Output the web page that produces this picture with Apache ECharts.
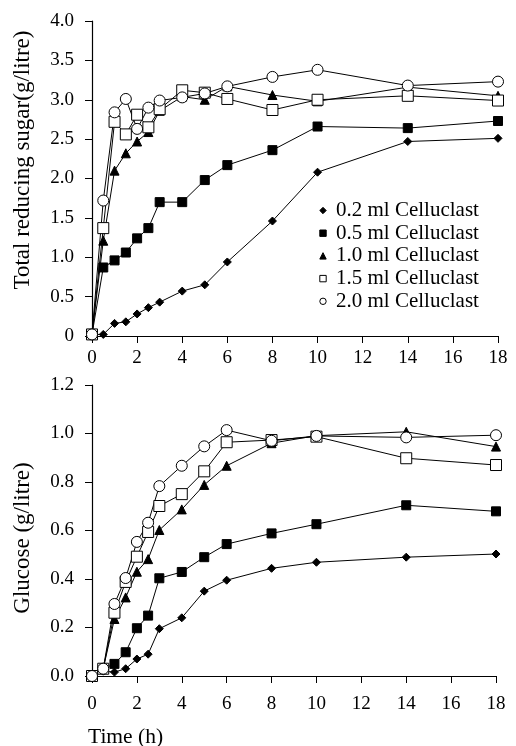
<!DOCTYPE html>
<html>
<head>
<meta charset="utf-8">
<script src="https://cdn.jsdelivr.net/npm/echarts@6/dist/echarts.min.js"></script>
<style>
  html, body { margin: 0; padding: 0; background: #fff; }
  #chart { width: 516px; height: 746px; }
</style>
</head>
<body>
<div id="chart"></div>
<script>
// time points (h)
var times = [0, 0.5, 1, 1.5, 2, 2.5, 3, 4, 5, 6, 8, 10, 14, 18];
var names = ['0.2 ml Celluclast', '0.5 ml Celluclast', '1.0 ml Celluclast', '1.5 ml Celluclast', '2.0 ml Celluclast'];

// total reducing sugar (g/litre)
var sugar02 = [0.02, 0.02, 0.16, 0.18, 0.28, 0.36, 0.43, 0.57, 0.65, 0.94, 1.46, 2.08, 2.47, 2.51];
var sugar05 = [0.02, 0.87, 0.96, 1.06, 1.24, 1.37, 1.70, 1.70, 1.98, 2.17, 2.36, 2.66, 2.64, 2.73];
var sugar10 = [0.02, 1.21, 2.10, 2.32, 2.47, 2.59, 2.86, 3.04, 3.00, 3.17, 3.06, 2.98, 3.16, 3.05];
var sugar15 = [0.02, 1.37, 2.72, 2.56, 2.81, 2.65, 2.88, 3.12, 3.09, 3.01, 2.87, 3.00, 3.05, 2.99];
var sugar20 = [0.02, 1.72, 2.84, 3.01, 2.63, 2.90, 2.99, 3.03, 3.08, 3.17, 3.29, 3.38, 3.18, 3.23];

// glucose (g/litre)
var gluc02 = [0.00, 0.02, 0.016, 0.03, 0.07, 0.09, 0.195, 0.24, 0.35, 0.395, 0.444, 0.469, 0.49, 0.503];
var gluc05 = [0.00, 0.03, 0.05, 0.098, 0.197, 0.249, 0.403, 0.429, 0.49, 0.544, 0.588, 0.626, 0.704, 0.679];
var gluc10 = [0.00, 0.03, 0.235, 0.324, 0.43, 0.482, 0.602, 0.687, 0.788, 0.867, 0.96, 0.991, 1.007, 0.946];
var gluc15 = [0.00, 0.03, 0.261, 0.388, 0.492, 0.594, 0.701, 0.75, 0.844, 0.964, 0.973, 0.987, 0.898, 0.87];
var gluc20 = [0.00, 0.03, 0.297, 0.404, 0.553, 0.632, 0.783, 0.867, 0.947, 1.014, 0.97, 0.99, 0.984, 0.993];

var fontFam = '"Liberation Serif", "DejaVu Serif", serif';

function pairs(ys) {
  var out = [];
  for (var i = 0; i < times.length; i++) out.push([times[i], ys[i]]);
  return out;
}

var marks = [
  { symbol: 'diamond', size: 8, fill: '#000' },
  { symbol: 'rect', size: 9, fill: '#000' },
  { symbol: 'triangle', size: 9, fill: '#000' },
  { symbol: 'rect', size: 11, fill: '#fff' },
  { symbol: 'circle', size: 11, fill: '#fff' }
];

function makeSeries(idx, data, axis) {
  var m = marks[idx];
  return {
    name: names[idx],
    type: 'line',
    xAxisIndex: axis,
    yAxisIndex: axis,
    data: pairs(data),
    symbol: m.symbol,
    symbolSize: m.size,
    showAllSymbol: true,
    lineStyle: { color: '#000', width: 1 },
    itemStyle: { color: m.fill, borderColor: '#000', borderWidth: 1 },
    emphasis: { disabled: true },
    animation: false
  };
}

function xAx(gi) {
  return {
    type: 'value', gridIndex: gi, min: 0, max: 18, interval: 2,
    axisLine: { lineStyle: { color: '#000', width: 1.2 } },
    axisTick: { inside: false, length: 7, lineStyle: { color: '#000' } },
    axisLabel: { color: '#000', fontFamily: fontFam, fontSize: 19, margin: gi === 0 ? 13 : 19 },
    splitLine: { show: false }
  };
}

function yAx(gi, max, interval, fmt) {
  return {
    type: 'value', gridIndex: gi, min: 0, max: max, interval: interval,
    axisLine: { show: true, lineStyle: { color: '#000', width: 1.2 } },
    axisTick: { show: true, inside: false, length: 7, lineStyle: { color: '#000' } },
    axisLabel: { color: '#000', fontFamily: fontFam, fontSize: 19, margin: 18, formatter: fmt },
    splitLine: { show: false }
  };
}

var chart = echarts.init(document.getElementById('chart'));

var option = {
  backgroundColor: '#fff',
  animation: false,
  grid: [
    { left: 92, top: 21, width: 406, height: 315 },
    { left: 92, top: 385, width: 404, height: 291 }
  ],
  xAxis: [xAx(0), xAx(1)],
  yAxis: [
    yAx(0, 4, 0.5, function (v) { return v === 0 ? '0' : v.toFixed(1); }),
    yAx(1, 1.2, 0.2, function (v) { return v.toFixed(1); })
  ],
  legend: {
    data: names,
    orient: 'vertical',
    left: 318,
    top: 200,
    itemWidth: 10,
    itemHeight: 8,
    itemGap: 1.7,
    padding: 0,
    selectedMode: false,
    textStyle: { color: '#000', fontFamily: fontFam, fontSize: 21, lineHeight: 20, padding: [0, 0, 0, 3] },
    itemStyle: { borderWidth: 1 },
    lineStyle: { width: 0 }
  },
  graphic: [
    {
      type: 'text', x: 23, y: 160, rotation: Math.PI / 2,
      style: { text: 'Total reducing sugar(g/litre)', fill: '#000', font: '23px ' + fontFam, align: 'center', verticalAlign: 'middle' }
    },
    {
      type: 'text', x: 23, y: 538, rotation: Math.PI / 2,
      style: { text: 'Glucose (g/litre)', fill: '#000', font: '23px ' + fontFam, align: 'center', verticalAlign: 'middle' }
    },
    {
      type: 'text', x: 88, y: 737,
      style: { text: 'Time (h)', fill: '#000', font: '21.5px ' + fontFam, align: 'left', verticalAlign: 'middle' }
    }
  ],
  series: [
    makeSeries(0, sugar02, 0),
    makeSeries(1, sugar05, 0),
    makeSeries(2, sugar10, 0),
    makeSeries(3, sugar15, 0),
    makeSeries(4, sugar20, 0),
    makeSeries(0, gluc02, 1),
    makeSeries(1, gluc05, 1),
    makeSeries(2, gluc10, 1),
    makeSeries(3, gluc15, 1),
    makeSeries(4, gluc20, 1)
  ]
};

chart.setOption(option);
</script>
</body>
</html>
